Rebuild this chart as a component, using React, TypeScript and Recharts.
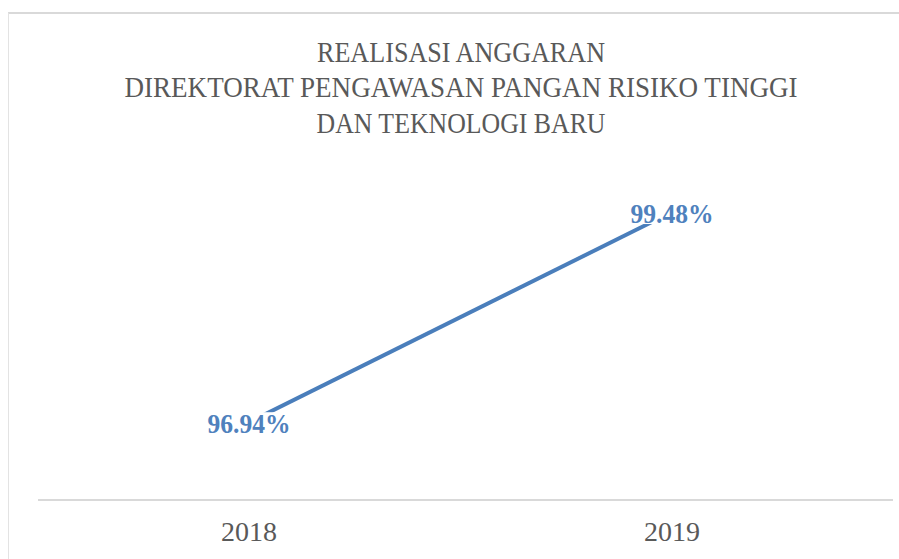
import React from 'react';
import { LineChart, Line, XAxis, YAxis, LabelList } from 'recharts';

const years = ['2018', '2019'];
const realisasi = [96.94, 99.48];
const realisasiLabels = ['96.94%', '99.48%'];
const titleLines = [
  'REALISASI ANGGARAN',
  'DIREKTORAT PENGAWASAN PANGAN RISIKO TINGGI',
  'DAN TEKNOLOGI BARU',
];

const data = years.map((year, i) => ({ year, value: realisasi[i], label: realisasiLabels[i] }));

const SERIF = '"Liberation Serif", "DejaVu Serif", serif';
const GRAY = '#595959';
const BLUE = '#4a7ebb';

const titleWidths = [288, 673, 289];
const titleBaselines = [62, 97, 133];

const YearTick = (props: any) => {
  const { x, y, payload } = props;
  return (
    <text
      x={x}
      y={y + 33}
      textAnchor="middle"
      fill={GRAY}
      fontFamily={SERIF}
      fontSize={28}
      textLength={56}
      lengthAdjust="spacingAndGlyphs"
    >
      {payload.value}
    </text>
  );
};

const ValueLabel = (props: any) => {
  const { x, y, value } = props;
  return (
    <g>
      <rect x={x - 44} y={y - 10} width={88} height={22} fill="#fff" />
      <text
        x={x}
        y={y + 11}
        textAnchor="middle"
        fill="#4f81bd"
        fontFamily={SERIF}
        fontWeight="bold"
        fontSize={27}
        textLength={83}
        lengthAdjust="spacingAndGlyphs"
      >
        {value}
      </text>
    </g>
  );
};

export default function App() {
  return (
    <div style={{ position: 'absolute', left: 0, top: 0, width: 899, height: 559, background: '#fff', overflow: 'hidden' }}>
      <div
        style={{
          position: 'absolute',
          left: 8,
          top: 12,
          width: 900,
          height: 560,
          borderTop: '2px solid #d9d9d9',
          borderLeft: '1px solid #e3e3e3',
        }}
      />
      <svg width={899} height={160} style={{ position: 'absolute', left: 0, top: 0 }}>
        {titleLines.map((line, i) => (
          <text
            key={line}
            x={461}
            y={titleBaselines[i]}
            textAnchor="middle"
            fill={GRAY}
            fontFamily={SERIF}
            fontSize={29}
            textLength={titleWidths[i]}
            lengthAdjust="spacingAndGlyphs"
          >
            {line}
          </text>
        ))}
      </svg>
      <div style={{ position: 'absolute', left: 0, top: 0 }}>
        <LineChart width={899} height={559} data={data} margin={{ top: 169, right: 6, left: 38, bottom: 0 }}>
          <XAxis
            dataKey="year"
            height={59}
            padding={{ left: 211, right: 221 }}
            axisLine={{ stroke: '#d9d9d9', strokeWidth: 2 }}
            tickLine={false}
            tick={<YearTick />}
          />
          <YAxis hide domain={[96, 100]} />
          <Line
            type="linear"
            dataKey="value"
            stroke={BLUE}
            strokeWidth={4}
            dot={false}
            isAnimationActive={false}
          >
            <LabelList dataKey="label" content={<ValueLabel />} />
          </Line>
        </LineChart>
      </div>
    </div>
  );
}
